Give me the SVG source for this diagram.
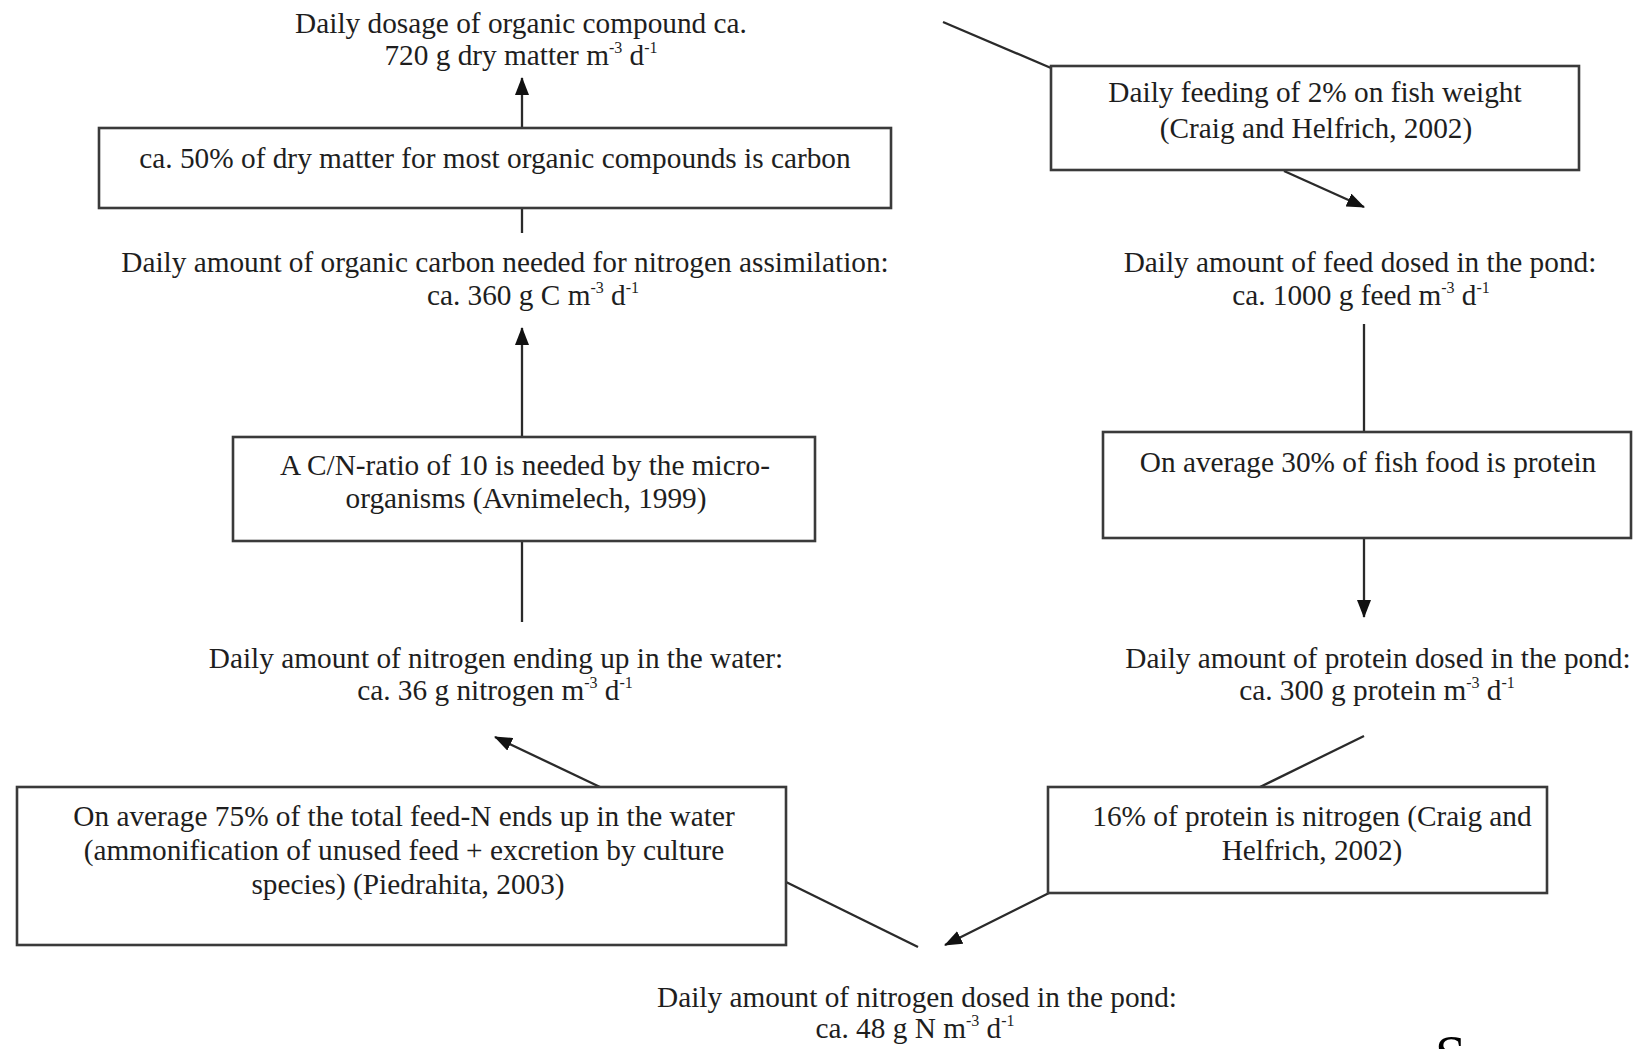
<svg xmlns="http://www.w3.org/2000/svg" width="1639" height="1049" viewBox="0 0 1639 1049">
<style>
text { font-family: "Liberation Serif", "Times New Roman", serif; font-size: 29.3px; fill: #1e1e1e; text-anchor: middle; }
.sup { font-size: 16px; }
.src { font-size: 56px; fill: #000; text-anchor: start; }
.box { fill: #ffffff; stroke: #3a3a3a; stroke-width: 2.6; }
.ln { fill: none; stroke: #2a2a2a; stroke-width: 2.3; }
</style>
<defs>
<marker id="ah" viewBox="0 0 18 14" refX="17" refY="7" markerWidth="18" markerHeight="14" markerUnits="userSpaceOnUse" orient="auto">
<path d="M0,0 L18,7 L0,14 Z" fill="#111"/>
</marker>
</defs>
<rect width="1639" height="1049" fill="#ffffff"/>

<g id="connectors">
<line class="ln" x1="522" y1="128" x2="522" y2="78" marker-end="url(#ah)"/>
<line class="ln" x1="522" y1="208" x2="522" y2="233"/>
<line class="ln" x1="522" y1="437" x2="522" y2="328" marker-end="url(#ah)"/>
<line class="ln" x1="522" y1="541" x2="522" y2="622"/>
<line class="ln" x1="600" y1="787" x2="495" y2="737" marker-end="url(#ah)"/>
<line class="ln" x1="786" y1="882" x2="918" y2="947"/>
<line class="ln" x1="1049" y1="893" x2="945" y2="945" marker-end="url(#ah)"/>
<line class="ln" x1="1364" y1="736" x2="1260" y2="787"/>
<line class="ln" x1="1364" y1="538" x2="1364" y2="617" marker-end="url(#ah)"/>
<line class="ln" x1="1364" y1="324" x2="1364" y2="432"/>
<line class="ln" x1="1284" y1="171" x2="1364" y2="207" marker-end="url(#ah)"/>
<line class="ln" x1="943" y1="22" x2="1051" y2="68"/>
</g>

<g id="n-dosage">
<text x="521" y="33">Daily dosage of organic compound ca.</text>
<text x="521" y="65">720 g dry matter m<tspan class="sup" dy="-12">-3</tspan><tspan dy="12"> d</tspan><tspan class="sup" dy="-12">-1</tspan></text>
</g>

<g id="n-carbon-frac">
<rect class="box" x="99" y="128" width="792" height="80"/>
<text x="495" y="168">ca. 50% of dry matter for most organic compounds is carbon</text>
</g>

<g id="n-carbon-needed">
<text x="505" y="272">Daily amount of organic carbon needed for nitrogen assimilation:</text>
<text x="533" y="305">ca. 360 g C m<tspan class="sup" dy="-12">-3</tspan><tspan dy="12"> d</tspan><tspan class="sup" dy="-12">-1</tspan></text>
</g>

<g id="n-cn-ratio">
<rect class="box" x="233" y="437" width="582" height="104"/>
<text x="525" y="475">A C/N-ratio of 10 is needed by the micro-</text>
<text x="526" y="508">organisms (Avnimelech, 1999)</text>
</g>

<g id="n-n-water">
<text x="496" y="668">Daily amount of nitrogen ending up in the water:</text>
<text x="495" y="700">ca. 36 g nitrogen m<tspan class="sup" dy="-12">-3</tspan><tspan dy="12"> d</tspan><tspan class="sup" dy="-12">-1</tspan></text>
</g>

<g id="n-75pct">
<rect class="box" x="17" y="787" width="769" height="158"/>
<text x="404" y="826">On average 75% of the total feed-N ends up in the water</text>
<text x="404" y="860">(ammonification of unused feed + excretion by culture</text>
<text x="408" y="894">species) (Piedrahita, 2003)</text>
</g>

<g id="n-n-dosed">
<text x="917" y="1007">Daily amount of nitrogen dosed in the pond:</text>
<text x="915" y="1038">ca. 48 g N m<tspan class="sup" dy="-12">-3</tspan><tspan dy="12"> d</tspan><tspan class="sup" dy="-12">-1</tspan></text>
</g>

<g id="n-16pct">
<rect class="box" x="1048" y="787" width="499" height="106"/>
<text x="1312" y="826">16% of protein is nitrogen (Craig and</text>
<text x="1312" y="860">Helfrich, 2002)</text>
</g>

<g id="n-protein-dosed">
<text x="1378" y="668">Daily amount of protein dosed in the pond:</text>
<text x="1377" y="700">ca. 300 g protein m<tspan class="sup" dy="-12">-3</tspan><tspan dy="12"> d</tspan><tspan class="sup" dy="-12">-1</tspan></text>
</g>

<g id="n-30pct">
<rect class="box" x="1103" y="432" width="528" height="106"/>
<text x="1368" y="472">On average 30% of fish food is protein</text>
</g>

<g id="n-feed-dosed">
<text x="1360" y="272">Daily amount of feed dosed in the pond:</text>
<text x="1361" y="305">ca. 1000 g feed m<tspan class="sup" dy="-12">-3</tspan><tspan dy="12"> d</tspan><tspan class="sup" dy="-12">-1</tspan></text>
</g>

<g id="n-feeding">
<rect class="box" x="1051" y="66" width="528" height="104"/>
<text x="1315" y="102">Daily feeding of 2% on fish weight</text>
<text x="1316" y="138">(Craig and Helfrich, 2002)</text>
</g>

<g id="cut-caption">
<text class="src" x="1435" y="1075">S</text>
</g>
</svg>
